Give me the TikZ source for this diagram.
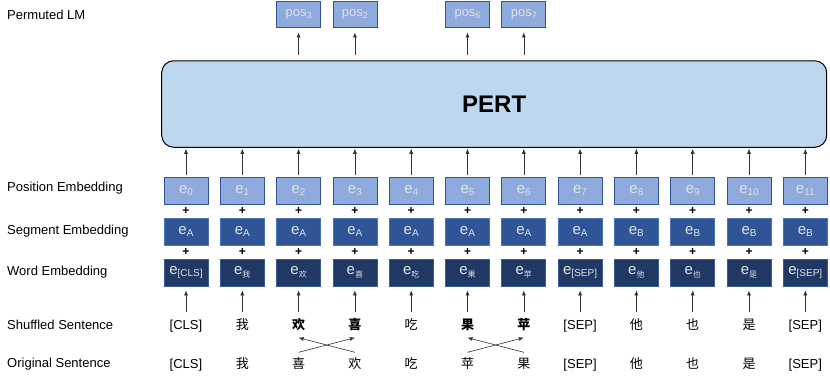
\documentclass[tikz,border=0pt]{standalone}
\usepackage{fontspec}
\setmainfont{Liberation Sans}
\newfontfamily\cjk{Noto Sans CJK SC}
\usetikzlibrary{arrows.meta}
\definecolor{posfill}{HTML}{8FAADC}
\definecolor{posdraw}{HTML}{2F5597}
\definecolor{segfill}{HTML}{2F5597}
\definecolor{segdraw}{HTML}{4A70B5}
\definecolor{wordfill}{HTML}{1F3864}
\definecolor{worddraw}{HTML}{3A5A96}
\definecolor{pertfill}{HTML}{BDD7EE}
\definecolor{boxtext}{HTML}{E2E2E2}
\newcommand{\sbx}[2][10]{\raisebox{-0.35ex}{\fontsize{#1}{#1}\selectfont #2}}
\newcommand{\csb}[1]{\sbx[8]{\cjk #1}}
\begin{document}
\begin{tikzpicture}[x=1pt,y=-1pt,
  emb/.style={minimum width=44pt, minimum height=27pt, inner sep=0pt, line width=0.8pt,
    text=boxtext, font=\fontsize{15}{15}\selectfont},
  posbox/.style={emb, fill=posfill, draw=posdraw},
  segbox/.style={emb, fill=segfill, draw=segdraw},
  wordbox/.style={emb, fill=wordfill, draw=worddraw},
  outbox/.style={posbox, minimum height=26pt, font=\fontsize{13}{13}\selectfont},
  lbl/.style={anchor=west, inner sep=0pt, font=\fontsize{13}{13}\selectfont},
  sent/.style={inner sep=0pt, text height=10pt, text depth=3pt, font=\fontsize{13}{13}\selectfont},
  plus/.style={inner sep=0pt, font=\fontsize{12}{12}\selectfont\bfseries},
  arr/.style={-{Latex[length=5pt,width=4pt]}, line width=0.6pt, draw=black!80},
  pertbox/.style={draw=black, line width=1pt, fill=pertfill, rounded corners=12pt,
    minimum width=665pt, minimum height=86.5pt, inner sep=0pt,
    font=\fontsize{24}{24}\selectfont\bfseries}
]
\useasboundingbox (0,0) rectangle (830,381);

% left labels
\node[lbl] (l1) at (7,15) {Permuted LM};
\node[lbl] (l2) at (7,188) {Position Embedding};
\node[lbl] (l3) at (7,231) {Segment Embedding};
\node[lbl] (l4) at (7,272) {Word Embedding};
\node[lbl] (l5) at (7,325) {Shuffled Sentence};
\node[lbl] (l6) at (7,364) {Original Sentence};

% PERT
\node[pertbox] (pert) at (494.2,104) {PERT};

% embeddings
\foreach \i in {0,...,11}{
  \node[posbox] (p\i) at (186+56.3*\i,190.5) {e\sbx{\i}};
  \node[plus] (pa\i) at (186+56.3*\i,211) {+};
  \node[plus] (pb\i) at (186+56.3*\i,252) {+};
  \draw[arr, shorten <=2pt, shorten >=1pt] (p\i.north) -- (p\i.north |- pert.south);
}
\foreach \i/\s in {0/A,1/A,2/A,3/A,4/A,5/A,6/A,7/A,8/B,9/B,10/B,11/B}{
  \node[segbox] (s\i) at (186+56.3*\i,231.5) {e\sbx{\s}};
}
\foreach \i/\w in {0/{\sbx{[CLS]}},1/{\csb{我}},2/{\csb{欢}},3/{\csb{喜}},4/{\csb{吃}},5/{\csb{果}},
  6/{\csb{苹}},7/{\sbx{[SEP]}},8/{\csb{他}},9/{\csb{也}},10/{\csb{是}},11/{\sbx{[SEP]}}}{
  \node[wordbox] (w\i) at (186+56.3*\i,272.5) {e\w};
}

% sentences
\foreach \i/\t in {0/{[CLS]},1/{\cjk 我},2/{\cjk\bfseries 欢},3/{\cjk\bfseries 喜},4/{\cjk 吃},
  5/{\cjk\bfseries 果},6/{\cjk\bfseries 苹},7/{[SEP]},8/{\cjk 他},9/{\cjk 也},10/{\cjk 是},11/{[SEP]}}{
  \node[sent] (sh\i) at (186+56.3*\i,325.5) {\t};
  \draw[arr, shorten <=6.5pt, shorten >=4pt] (sh\i.north) -- (w\i.south);
}
\foreach \i/\t in {0/{[CLS]},1/{\cjk 我},2/{\cjk 喜},3/{\cjk 欢},4/{\cjk 吃},
  5/{\cjk 苹},6/{\cjk 果},7/{[SEP]},8/{\cjk 他},9/{\cjk 也},10/{\cjk 是},11/{[SEP]}}{
  \node[sent] (or\i) at (186+56.3*\i,364.5) {\t};
}
% permutation arrows
\foreach \a/\b in {2/3,3/2,5/6,6/5}{
  \draw[arr] ([yshift=5.5pt]or\a.north) -- ([yshift=-5.5pt]sh\b.south);
}

% outputs
\foreach \c/\n in {2/3,3/2,5/6,6/7}{
  \node[outbox] (o\c) at (186+56.3*\c,14) {pos\sbx[9]{\n}};
  \draw[arr, shorten <=5.5pt, shorten >=5pt] (pert.north -| o\c.south) -- (o\c.south);
}
\end{tikzpicture}
\end{document}
